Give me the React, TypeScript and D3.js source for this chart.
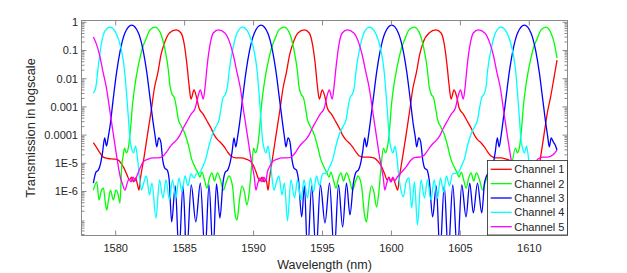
import React from "react";
import * as d3 from "d3";

const W = 627;
const H = 273;
const PLOT = { left: 81.5, right: 567.5, top: 20.5, bottom: 235.5 };

const xTicks = [1580, 1585, 1590, 1595, 1600, 1605, 1610];
const yTickValues = [1, 0.1, 0.01, 0.001, 0.0001, 1e-5, 1e-6];
const yTickLabels = ["1", "0.1", "0.01", "0.001", "0.0001", "1E-5", "1E-6"];
const channelNames = ["Channel 1", "Channel 2", "Channel 3", "Channel 4", "Channel 5"];
const channelColors = ["#ff0000", "#00ff00", "#0000ff", "#00ffff", "#ff00ff"];
const xDomain = [1577.52, 1612.77];
const yDomainLog = [-7.56, 0.064];

// [wavelength (nm), log10(transmission)]
const ch1: [number, number][] = [
[1578.38,-4.27],[1578.64,-4.46],[1578.86,-4.63],[1579.10,-4.78],[1579.44,-4.83],[1579.88,-4.85],[1580.17,-4.88],[1580.38,-4.99],[1580.60,-5.17],[1580.82,-5.41],[1581.00,-5.59],[1581.15,-5.49],[1581.29,-5.66],[1581.44,-5.52],[1581.57,-5.73],[1581.69,-5.95],[1581.80,-5.52],[1582.05,-4.81],[1582.30,-4.00],[1582.56,-3.18],[1582.81,-2.33],[1583.07,-1.76],[1583.28,-1.16],[1583.54,-0.73],[1583.90,-0.38],[1584.38,-0.27],[1584.74,-0.38],[1584.98,-0.80],[1585.17,-1.51],[1585.32,-2.22],[1585.46,-2.72],[1585.68,-2.40],[1585.86,-2.65],[1586.04,-3.04],[1586.33,-3.25],[1586.67,-3.54],[1586.91,-3.75],[1587.15,-4.00],[1587.40,-4.17],[1587.64,-4.28],[1587.88,-4.42],[1588.12,-4.60],[1588.36,-4.74],[1588.73,-4.81],[1589.09,-4.81],[1589.45,-4.85],[1589.82,-4.95],[1590.04,-5.13],[1590.18,-5.31],[1590.33,-5.52],[1590.47,-5.63],[1590.62,-5.49],[1590.76,-5.66],[1590.91,-5.56],[1591.05,-5.95],[1591.16,-5.52],[1591.38,-4.81],[1591.63,-4.00],[1591.89,-3.18],[1592.14,-2.33],[1592.39,-1.76],[1592.61,-1.16],[1592.87,-0.73],[1593.22,-0.38],[1593.68,-0.27],[1594.04,-0.38],[1594.28,-0.80],[1594.48,-1.51],[1594.62,-2.22],[1594.77,-2.72],[1594.98,-2.40],[1595.18,-2.65],[1595.35,-3.04],[1595.64,-3.25],[1595.98,-3.54],[1596.22,-3.75],[1596.46,-4.00],[1596.70,-4.17],[1596.94,-4.28],[1597.18,-4.42],[1597.43,-4.60],[1597.67,-4.74],[1598.01,-4.78],[1598.37,-4.78],[1598.73,-4.81],[1599.04,-4.94],[1599.29,-5.12],[1599.53,-5.41],[1599.68,-5.59],[1599.82,-5.49],[1599.97,-5.66],[1600.11,-5.52],[1600.26,-5.70],[1600.46,-5.95],[1600.57,-5.52],[1600.80,-4.81],[1601.06,-4.00],[1601.31,-3.18],[1601.56,-2.33],[1601.82,-1.76],[1602.04,-1.16],[1602.29,-0.73],[1602.73,-0.38],[1603.23,-0.27],[1603.60,-0.38],[1603.84,-0.80],[1604.03,-1.51],[1604.18,-2.22],[1604.32,-2.72],[1604.54,-2.40],[1604.74,-2.65],[1604.91,-3.04],[1605.20,-3.25],[1605.54,-3.54],[1605.78,-3.75],[1606.02,-4.00],[1606.26,-4.17],[1606.51,-4.28],[1606.74,-4.42],[1606.99,-4.60],[1607.22,-4.74],[1607.58,-4.81],[1607.95,-4.81],[1608.31,-4.85],[1608.67,-4.92],[1609.03,-5.06],[1609.25,-5.31],[1609.40,-5.52],[1609.54,-5.63],[1609.69,-5.49],[1609.83,-5.66],[1609.98,-5.52],[1610.12,-5.73],[1610.41,-5.95],[1610.56,-5.52],[1610.81,-4.81],[1611.06,-4.00],[1611.32,-3.18],[1611.57,-2.58],[1611.79,-1.97],[1612.01,-1.34]
];

const ch2: [number, number][] = [
[1578.38,-5.95],[1578.63,-5.66],[1578.79,-6.30],[1578.97,-5.95],[1579.11,-5.88],[1579.26,-6.44],[1579.35,-6.66],[1579.48,-6.30],[1579.62,-5.95],[1579.83,-6.30],[1580.02,-5.95],[1580.17,-6.09],[1580.31,-6.41],[1580.43,-5.17],[1580.55,-4.70],[1580.64,-4.46],[1580.78,-4.63],[1580.93,-4.42],[1581.07,-3.82],[1581.22,-2.93],[1581.40,-2.22],[1581.58,-1.69],[1581.76,-1.27],[1581.94,-0.91],[1582.20,-0.59],[1582.49,-0.27],[1582.85,-0.17],[1583.21,-0.34],[1583.58,-0.98],[1583.82,-1.69],[1583.94,-2.26],[1584.08,-2.54],[1584.26,-2.68],[1584.41,-3.04],[1584.54,-3.43],[1584.79,-3.71],[1585.03,-3.96],[1585.27,-4.35],[1585.51,-4.85],[1585.75,-5.13],[1585.97,-5.34],[1586.11,-5.49],[1586.26,-5.31],[1586.44,-5.59],[1586.62,-5.88],[1586.80,-5.52],[1586.98,-5.34],[1587.16,-5.63],[1587.38,-5.34],[1587.60,-5.59],[1587.82,-5.95],[1588.00,-5.70],[1588.22,-5.45],[1588.47,-5.80],[1588.66,-6.80],[1588.80,-7.01],[1588.98,-6.30],[1589.16,-5.80],[1589.34,-6.02],[1589.52,-6.48],[1589.70,-5.95],[1589.85,-5.17],[1590.00,-4.46],[1590.14,-4.63],[1590.29,-4.42],[1590.43,-3.82],[1590.58,-2.93],[1590.76,-2.22],[1590.94,-1.69],[1591.12,-1.27],[1591.30,-0.91],[1591.55,-0.59],[1591.84,-0.27],[1592.21,-0.17],[1592.57,-0.34],[1592.93,-0.98],[1593.17,-1.69],[1593.29,-2.26],[1593.44,-2.54],[1593.62,-2.68],[1593.77,-3.04],[1593.90,-3.43],[1594.14,-3.71],[1594.38,-3.96],[1594.62,-4.35],[1594.87,-4.85],[1595.11,-5.13],[1595.32,-5.34],[1595.47,-5.49],[1595.61,-5.31],[1595.79,-5.59],[1595.98,-5.88],[1596.16,-5.52],[1596.34,-5.34],[1596.52,-5.63],[1596.74,-5.34],[1596.96,-5.59],[1597.17,-5.95],[1597.36,-5.70],[1597.57,-5.45],[1597.83,-5.80],[1598.04,-6.80],[1598.19,-7.08],[1598.37,-6.30],[1598.55,-5.80],[1598.73,-6.02],[1598.92,-6.55],[1599.10,-5.95],[1599.24,-5.17],[1599.42,-4.46],[1599.57,-4.63],[1599.71,-4.42],[1599.86,-3.82],[1600.00,-2.93],[1600.18,-2.22],[1600.37,-1.69],[1600.55,-1.27],[1600.73,-0.91],[1600.98,-0.59],[1601.27,-0.27],[1601.64,-0.17],[1602.00,-0.34],[1602.37,-0.98],[1602.61,-1.69],[1602.73,-2.26],[1602.88,-2.54],[1603.06,-2.68],[1603.20,-3.04],[1603.34,-3.43],[1603.58,-3.71],[1603.82,-3.96],[1604.06,-4.35],[1604.31,-4.85],[1604.55,-5.13],[1604.77,-5.34],[1604.91,-5.49],[1605.06,-5.31],[1605.24,-5.59],[1605.42,-5.88],[1605.60,-5.52],[1605.78,-5.34],[1605.96,-5.63],[1606.17,-5.34],[1606.39,-5.59],[1606.61,-5.95],[1606.79,-5.70],[1607.00,-5.45],[1607.26,-5.80],[1607.47,-6.80],[1607.62,-7.08],[1607.80,-6.30],[1607.98,-5.80],[1608.16,-6.02],[1608.35,-6.55],[1608.53,-5.95],[1608.71,-5.17],[1609.00,-4.46],[1609.14,-4.63],[1609.29,-4.42],[1609.43,-3.82],[1609.58,-2.93],[1609.76,-2.22],[1609.94,-1.69],[1610.12,-1.27],[1610.30,-0.91],[1610.56,-0.59],[1610.85,-0.27],[1611.21,-0.17],[1611.57,-0.38],[1611.79,-0.70],[1612.01,-1.27]
];

const ch3: [number, number][] = [
[1578.38,-5.70],[1578.57,-5.31],[1578.74,-5.24],[1578.91,-4.99],[1579.05,-4.60],[1579.20,-4.10],[1579.33,-4.39],[1579.46,-4.07],[1579.59,-3.68],[1579.83,-2.68],[1580.07,-1.76],[1580.31,-1.05],[1580.67,-0.38],[1581.16,-0.10],[1581.65,-0.38],[1582.01,-1.05],[1582.25,-1.76],[1582.49,-2.68],[1582.74,-3.64],[1582.87,-4.07],[1582.98,-4.42],[1583.12,-4.10],[1583.27,-4.24],[1583.41,-4.88],[1583.56,-5.17],[1583.74,-5.24],[1583.88,-5.59],[1584.06,-7.08],[1584.32,-5.80],[1584.59,-8.20],[1584.88,-5.80],[1585.15,-8.20],[1585.48,-5.77],[1585.81,-7.08],[1586.14,-5.70],[1586.48,-8.20],[1586.77,-5.77],[1587.06,-8.20],[1587.31,-5.73],[1587.56,-6.94],[1587.78,-5.70],[1587.95,-5.31],[1588.12,-5.24],[1588.29,-4.99],[1588.44,-4.60],[1588.58,-4.10],[1588.71,-4.42],[1588.84,-4.07],[1588.97,-3.64],[1589.21,-2.68],[1589.45,-1.76],[1589.69,-1.05],[1590.06,-0.38],[1590.54,-0.10],[1591.03,-0.38],[1591.39,-1.05],[1591.63,-1.76],[1591.87,-2.68],[1592.12,-3.64],[1592.24,-4.07],[1592.35,-4.42],[1592.50,-4.10],[1592.64,-4.24],[1592.79,-4.88],[1592.93,-5.17],[1593.11,-5.24],[1593.26,-5.59],[1593.49,-6.90],[1593.69,-5.80],[1593.91,-8.20],[1594.22,-5.80],[1594.53,-8.20],[1594.85,-5.77],[1595.18,-7.12],[1595.51,-5.70],[1595.85,-8.20],[1596.16,-5.77],[1596.46,-7.26],[1596.74,-5.70],[1596.99,-6.83],[1597.24,-5.70],[1597.43,-5.31],[1597.60,-5.24],[1597.77,-4.99],[1597.91,-4.60],[1598.06,-4.10],[1598.19,-4.42],[1598.32,-4.07],[1598.44,-3.64],[1598.69,-2.68],[1598.93,-1.76],[1599.17,-1.05],[1599.53,-0.38],[1600.02,-0.10],[1600.50,-0.38],[1600.87,-1.05],[1601.11,-1.76],[1601.35,-2.68],[1601.59,-3.64],[1601.73,-4.07],[1601.83,-4.42],[1601.98,-4.10],[1602.12,-4.24],[1602.27,-4.88],[1602.41,-5.17],[1602.59,-5.24],[1602.74,-5.59],[1602.99,-6.90],[1603.25,-5.80],[1603.52,-8.20],[1603.83,-5.80],[1604.12,-8.20],[1604.45,-5.77],[1604.78,-8.20],[1605.10,-5.77],[1605.41,-6.90],[1605.68,-5.70],[1605.94,-6.76],[1606.24,-5.70],[1606.55,-6.76],[1606.76,-5.66],[1607.05,-5.31],[1607.22,-5.24],[1607.39,-4.99],[1607.53,-4.60],[1607.68,-4.10],[1607.81,-4.42],[1607.94,-4.07],[1608.06,-3.64],[1608.31,-2.68],[1608.55,-1.76],[1608.79,-1.05],[1609.15,-0.38],[1609.64,-0.10],[1610.12,-0.38],[1610.48,-1.05],[1610.72,-1.76],[1610.96,-2.68],[1611.21,-3.64],[1611.34,-4.07],[1611.45,-4.42],[1611.59,-4.10],[1611.74,-4.24],[1611.88,-4.35],[1612.01,-4.53]
];

const ch4: [number, number][] = [
[1578.38,-2.51],[1578.55,-2.33],[1578.69,-1.76],[1578.84,-1.16],[1578.98,-0.70],[1579.22,-0.31],[1579.59,-0.17],[1579.95,-0.31],[1580.24,-0.66],[1580.46,-1.09],[1580.64,-1.69],[1580.78,-2.47],[1580.93,-3.46],[1581.04,-4.17],[1581.13,-4.42],[1581.28,-4.63],[1581.44,-4.39],[1581.58,-4.81],[1581.73,-5.52],[1581.87,-5.95],[1582.05,-5.66],[1582.23,-5.45],[1582.45,-6.12],[1582.63,-5.70],[1582.92,-6.94],[1583.18,-5.59],[1583.43,-6.23],[1583.65,-5.59],[1583.90,-6.30],[1584.12,-5.59],[1584.37,-6.23],[1584.59,-5.52],[1584.81,-6.02],[1585.03,-5.45],[1585.24,-5.80],[1585.46,-5.38],[1585.68,-5.52],[1585.90,-5.34],[1586.08,-5.34],[1586.30,-5.13],[1586.53,-4.85],[1586.78,-4.35],[1587.02,-3.96],[1587.26,-3.71],[1587.51,-3.43],[1587.64,-3.04],[1587.78,-2.68],[1587.97,-2.54],[1588.11,-2.26],[1588.24,-1.69],[1588.48,-0.98],[1588.84,-0.34],[1589.20,-0.17],[1589.56,-0.31],[1589.85,-0.66],[1590.07,-1.09],[1590.25,-1.69],[1590.39,-2.47],[1590.54,-3.46],[1590.65,-4.17],[1590.74,-4.42],[1590.89,-4.63],[1591.05,-4.39],[1591.19,-4.81],[1591.34,-5.52],[1591.48,-5.95],[1591.66,-5.66],[1591.84,-5.45],[1592.06,-6.12],[1592.24,-5.70],[1592.46,-7.04],[1592.71,-5.59],[1592.97,-6.23],[1593.19,-5.59],[1593.44,-6.30],[1593.66,-5.59],[1593.91,-6.23],[1594.13,-5.52],[1594.35,-6.02],[1594.56,-5.45],[1594.78,-5.80],[1595.00,-5.38],[1595.29,-5.34],[1595.51,-5.13],[1595.75,-4.85],[1595.99,-4.35],[1596.23,-3.96],[1596.47,-3.71],[1596.72,-3.43],[1596.85,-3.04],[1596.99,-2.68],[1597.17,-2.54],[1597.32,-2.26],[1597.44,-1.69],[1597.68,-0.98],[1598.04,-0.34],[1598.41,-0.17],[1598.77,-0.31],[1599.06,-0.66],[1599.28,-1.09],[1599.46,-1.69],[1599.60,-2.47],[1599.75,-3.46],[1599.86,-4.17],[1599.95,-4.42],[1600.10,-4.63],[1600.26,-4.39],[1600.40,-4.81],[1600.55,-5.52],[1600.69,-5.95],[1600.87,-6.19],[1601.06,-5.66],[1601.27,-5.52],[1601.47,-6.58],[1601.67,-5.66],[1601.89,-7.19],[1602.14,-5.59],[1602.40,-6.23],[1602.61,-5.59],[1602.87,-6.30],[1603.09,-5.59],[1603.34,-6.23],[1603.56,-5.52],[1603.78,-6.02],[1603.99,-5.45],[1604.21,-5.80],[1604.43,-5.38],[1604.83,-5.34],[1605.05,-5.13],[1605.29,-4.85],[1605.53,-4.35],[1605.78,-3.96],[1606.02,-3.71],[1606.26,-3.43],[1606.39,-3.04],[1606.54,-2.68],[1606.72,-2.54],[1606.87,-2.26],[1606.98,-1.69],[1607.22,-0.98],[1607.58,-0.34],[1607.95,-0.17],[1608.31,-0.31],[1608.60,-0.66],[1608.82,-1.09],[1609.00,-1.69],[1609.14,-2.47],[1609.29,-3.46],[1609.40,-4.17],[1609.49,-4.42],[1609.64,-4.63],[1609.80,-4.39],[1609.94,-4.81],[1610.09,-5.52],[1610.23,-5.95],[1610.41,-5.66],[1610.59,-5.45],[1610.81,-6.12],[1610.99,-5.70],[1611.25,-7.01],[1611.50,-5.59],[1611.76,-6.23],[1612.01,-5.59]
];

const ch5: [number, number][] = [
[1578.38,-0.52],[1578.57,-0.73],[1578.83,-1.16],[1579.08,-1.76],[1579.33,-2.33],[1579.59,-3.18],[1579.84,-4.00],[1580.09,-4.81],[1580.35,-5.52],[1580.49,-5.73],[1580.67,-5.95],[1580.82,-5.73],[1580.96,-5.56],[1581.11,-5.66],[1581.25,-5.49],[1581.40,-5.63],[1581.54,-5.45],[1581.65,-5.31],[1581.80,-5.13],[1582.00,-4.95],[1582.36,-4.85],[1582.73,-4.81],[1583.09,-4.81],[1583.45,-4.74],[1583.69,-4.60],[1583.94,-4.42],[1584.18,-4.28],[1584.42,-4.17],[1584.66,-4.00],[1584.90,-3.75],[1585.14,-3.54],[1585.48,-3.25],[1585.77,-3.04],[1585.96,-2.65],[1586.14,-2.40],[1586.35,-2.72],[1586.50,-2.22],[1586.64,-1.51],[1586.84,-0.80],[1587.08,-0.38],[1587.44,-0.27],[1587.92,-0.38],[1588.28,-0.73],[1588.53,-1.16],[1588.79,-1.76],[1589.04,-2.33],[1589.29,-3.18],[1589.55,-4.00],[1589.80,-4.81],[1590.06,-5.52],[1590.17,-5.95],[1590.31,-5.70],[1590.46,-5.52],[1590.60,-5.66],[1590.75,-5.49],[1590.89,-5.63],[1591.00,-5.31],[1591.15,-5.13],[1591.36,-4.95],[1591.73,-4.85],[1592.09,-4.81],[1592.45,-4.81],[1592.82,-4.74],[1593.06,-4.60],[1593.30,-4.42],[1593.53,-4.28],[1593.77,-4.17],[1594.02,-4.00],[1594.26,-3.75],[1594.50,-3.54],[1594.84,-3.25],[1595.13,-3.04],[1595.31,-2.65],[1595.49,-2.40],[1595.71,-2.72],[1595.85,-2.22],[1596.00,-1.51],[1596.19,-0.80],[1596.43,-0.38],[1596.80,-0.27],[1597.27,-0.38],[1597.63,-0.73],[1597.88,-1.16],[1598.14,-1.76],[1598.39,-2.33],[1598.65,-3.18],[1598.90,-4.00],[1599.15,-4.81],[1599.41,-5.52],[1599.52,-5.95],[1599.66,-5.70],[1599.81,-5.52],[1599.95,-5.66],[1600.10,-5.49],[1600.24,-5.63],[1600.38,-5.52],[1600.74,-5.31],[1601.11,-5.10],[1601.42,-4.88],[1601.71,-4.79],[1602.07,-4.78],[1602.31,-4.74],[1602.55,-4.60],[1602.81,-4.42],[1603.05,-4.28],[1603.29,-4.17],[1603.53,-4.00],[1603.77,-3.75],[1604.01,-3.54],[1604.35,-3.25],[1604.64,-3.04],[1604.82,-2.65],[1605.01,-2.40],[1605.21,-2.72],[1605.36,-2.22],[1605.50,-1.51],[1605.70,-0.80],[1605.94,-0.38],[1606.30,-0.27],[1606.77,-0.38],[1607.13,-0.73],[1607.39,-1.16],[1607.64,-1.76],[1607.90,-2.33],[1608.15,-3.18],[1608.40,-4.00],[1608.66,-4.81],[1608.91,-5.52],[1609.02,-5.95],[1609.16,-5.70],[1609.31,-5.52],[1609.45,-5.66],[1609.60,-5.49],[1609.74,-5.63],[1609.89,-5.45],[1610.05,-5.24],[1610.34,-5.03],[1610.63,-4.85],[1610.99,-4.78],[1611.35,-4.78],[1611.72,-4.70],[1612.01,-4.53]
];

const channelData = [ch1, ch2, ch3, ch4, ch5];

const FONT = "'Liberation Sans', Arial, Helvetica, sans-serif";
const TEXT = "#262626";
const AXIS = "#8a8a8a";

export default function App() {
  const x = d3.scaleLinear().domain(xDomain).range([PLOT.left, PLOT.right]);
  const y = d3
    .scaleLog()
    .domain([Math.pow(10, yDomainLog[0]), Math.pow(10, yDomainLog[1])])
    .range([PLOT.bottom, PLOT.top]);

  const line = d3
    .line<[number, number]>()
    .x((d) => x(d[0]))
    .y((d) => y(Math.pow(10, d[1])))
    .curve(d3.curveMonotoneX);

  const minorTicks: number[] = [];
  for (let e = -8; e <= 0; e++) {
    for (let k = 2; k <= 9; k++) {
      const v = k * Math.pow(10, e);
      const lv = Math.log10(v);
      if (lv > yDomainLog[0] && lv < yDomainLog[1]) minorTicks.push(v);
    }
  }

  const majorLen = 5;
  const minorLen = 3;
  const legend = { x: 487.5, y: 160.5, w: 80, h: 74.5 };

  return (
    <svg
      width={W}
      height={H}
      style={{ position: "absolute", left: 0, top: 0, background: "#fff" }}
      fontFamily={FONT}
    >
      <rect x={0} y={0} width={W} height={H} fill="#fff" />
      <defs>
        <clipPath id="plotClip">
          <rect x={PLOT.left} y={PLOT.top} width={PLOT.right - PLOT.left} height={PLOT.bottom - PLOT.top} />
        </clipPath>
      </defs>

      <g clipPath="url(#plotClip)">
        {channelData.map((data, i) => (
          <path key={i} d={line(data) || ""} fill="none" stroke={channelColors[i]} strokeWidth={1.3} strokeLinejoin="round" />
        ))}
      </g>

      {/* box */}
      <rect x={PLOT.left} y={PLOT.top} width={PLOT.right - PLOT.left} height={PLOT.bottom - PLOT.top} fill="none" stroke={AXIS} strokeWidth={1} />

      {/* x ticks */}
      {xTicks.map((t) => (
        <g key={t}>
          <line x1={x(t)} x2={x(t)} y1={PLOT.bottom} y2={PLOT.bottom - majorLen} stroke={AXIS} />
          <line x1={x(t)} x2={x(t)} y1={PLOT.top} y2={PLOT.top + majorLen} stroke={AXIS} />
          <text x={x(t)} y={252} textAnchor="middle" fontSize={11} fill={TEXT}>
            {t}
          </text>
        </g>
      ))}

      {/* y ticks */}
      {yTickValues.map((t, i) => (
        <g key={t}>
          <line x1={PLOT.left} x2={PLOT.left + majorLen} y1={y(t)} y2={y(t)} stroke={AXIS} />
          <line x1={PLOT.right} x2={PLOT.right - majorLen} y1={y(t)} y2={y(t)} stroke={AXIS} />
          <text x={78} y={y(t)} dy="0.35em" textAnchor="end" fontSize={11} fill={TEXT}>
            {yTickLabels[i]}
          </text>
        </g>
      ))}
      {minorTicks.map((t, i) => (
        <g key={"m" + i}>
          <line x1={PLOT.left} x2={PLOT.left + minorLen} y1={y(t)} y2={y(t)} stroke={AXIS} />
          <line x1={PLOT.right} x2={PLOT.right - minorLen} y1={y(t)} y2={y(t)} stroke={AXIS} />
        </g>
      ))}

      {/* axis labels */}
      <text x={(PLOT.left + PLOT.right) / 2} y={268.5} textAnchor="middle" fontSize={12.5} fill={TEXT}>
        Wavelength (nm)
      </text>
      <text
        transform={`translate(34.5, ${(PLOT.top + PLOT.bottom) / 2}) rotate(-90)`}
        textAnchor="middle"
        fontSize={12.8}
        fill={TEXT}
      >
        Transmission in logscale
      </text>

      {/* legend */}
      <rect x={legend.x} y={legend.y} width={legend.w} height={legend.h} fill="#fff" stroke="#262626" strokeWidth={0.8} />
      {channelNames.map((name, i) => {
        const cy = 169.3 + i * 14.35;
        return (
          <g key={name}>
            <line x1={490.7} x2={511.7} y1={cy} y2={cy} stroke={channelColors[i]} strokeWidth={1.3} />
            <text x={514.3} y={cy} dy="0.35em" fontSize={11} fill={TEXT}>
              {name}
            </text>
          </g>
        );
      })}
    </svg>
  );
}
